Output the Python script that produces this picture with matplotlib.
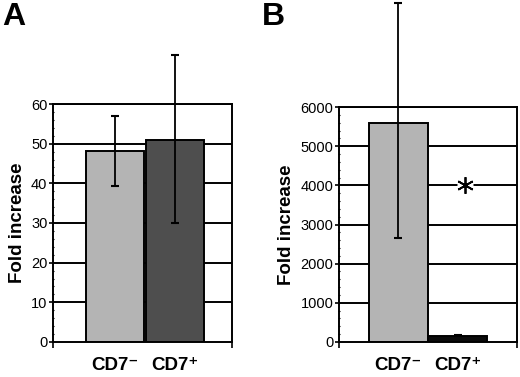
import matplotlib.pyplot as plt
import numpy as np

plt.rcParams['font.family'] = ['Liberation Sans', 'DejaVu Sans']

# data
labels = ['CD7\u207b', 'CD7\u207a']
a_vals = [48.2, 51.0]
a_low = [39.3, 30.0]
a_high = [57.0, 72.3]
b_vals = [5600, 140]
b_low = [2650, 140]
b_high = [8650, 175]
a_colors = ['#b4b4b4', '#4e4e4e']
b_colors = ['#b4b4b4', '#0a0a0a']

fig = plt.figure(figsize=(5.2, 3.77), dpi=100)
axA = fig.add_axes([0.102, 0.093, 0.344, 0.631])
axB = fig.add_axes([0.652, 0.093, 0.342, 0.623])


def panel(ax, vals, low, high, colors, ymax, step, xlim, width, centers):
    for y in np.arange(step, ymax + step, step):
        ax.axhline(y, color='black', lw=1.4, zorder=1)
    ax.bar(centers, vals, width=width, color=colors, edgecolor='black',
           linewidth=1.4, zorder=2)
    vals = np.array(vals)
    yerr = [vals - np.array(low), np.array(high) - vals]
    ax.errorbar(centers, vals, yerr=yerr, fmt='none', ecolor='black',
                elinewidth=1.3, capsize=3, capthick=1.5, zorder=3,
                clip_on=False)
    ax.set_xlim(*xlim)
    ax.set_ylim(0, ymax)
    ax.set_yticks(np.arange(0, ymax + step, step))
    ax.set_yticks(np.arange(0, ymax, step / 5), minor=True)
    ax.tick_params(axis='y', which='major', direction='out', length=3,
                   width=1.2, labelsize=10.5, pad=1)
    ax.tick_params(axis='y', which='minor', direction='inout', length=2,
                   width=0.8)
    ax.set_xticks(list(xlim))
    ax.set_xticklabels(['', ''])
    ax.tick_params(axis='x', which='major', direction='out', length=4,
                   width=1.2)
    ax.set_xticks(centers, minor=True)
    ax.set_xticklabels(labels, minor=True, fontsize=13.5, fontweight='bold')
    ax.tick_params(axis='x', which='minor', length=0, pad=11)
    for s in ax.spines.values():
        s.set_linewidth(1.4)
    ax.set_ylabel('Fold increase', fontsize=13.5, fontweight='bold', labelpad=4)


panel(axA, a_vals, a_low, a_high, a_colors, 60, 10, (-1.04, 1.96), 0.97, [0, 1])
panel(axB, b_vals, b_low, b_high, b_colors, 6000, 1000, (-1.0, 2.0), 1.0, [0, 1])

# asterisk sitting on the 4000 gridline, with a small gap in the line
axB.plot(1.12, 4000, marker='s', ms=12, color='white', mec='none', zorder=4)
axB.plot(1.12, 4000, marker=(6, 2, 0), ms=12, color='black', mew=1.3,
         zorder=5)

fig.text(0.004, 0.995, 'A', fontsize=23, fontweight='bold', va='top')
fig.text(0.504, 0.995, 'B', fontsize=23, fontweight='bold', va='top')

fig.savefig('out.png', dpi=100)
